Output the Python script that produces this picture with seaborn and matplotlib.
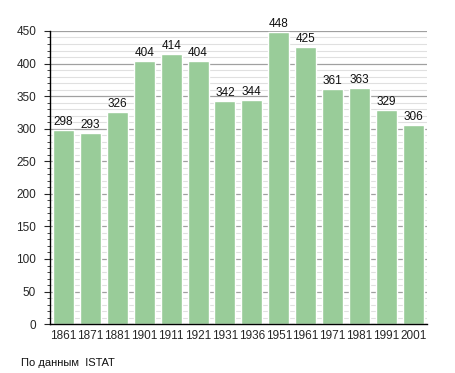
import numpy as np
import pandas as pd
import matplotlib
matplotlib.use('Agg')
import matplotlib.pyplot as plt
import seaborn as sns
from matplotlib.ticker import MultipleLocator

years = ['1861', '1871', '1881', '1901', '1911', '1921', '1931',
         '1936', '1951', '1961', '1971', '1981', '1991', '2001']
population = [298, 293, 326, 404, 414, 404, 342,
              344, 448, 425, 361, 363, 329, 306]

df = pd.DataFrame({'year': years, 'pop': population})

sns.set_style('white')
plt.rcParams['font.family'] = ['Liberation Sans', 'DejaVu Sans']

fig = plt.figure(figsize=(4.55, 3.73), dpi=100)
ax = fig.add_axes([0.110, 0.131, 0.828, 0.786])

ax.yaxis.set_major_locator(MultipleLocator(50))
ax.yaxis.set_minor_locator(MultipleLocator(10))
ax.grid(which='major', axis='y', color='#a0a0a0', linewidth=0.9, zorder=0)
ax.grid(which='minor', axis='y', color='#e0e0e0', linewidth=0.8, zorder=0)
ax.set_axisbelow(True)

sns.barplot(data=df, x='year', y='pop', color='#99cc99', saturation=1,
            width=0.78, ax=ax, zorder=2)

for i, v in enumerate(population):
    ax.text(i, v + 3, str(v), ha='center', va='bottom', fontsize=8.5,
            color='#111111')

ax.set_ylim(0, 450)
ax.set_xlim(-0.5, len(years) - 0.5)
ax.set_xlabel('')
ax.set_ylabel('')
for s in ['top', 'right']:
    ax.spines[s].set_visible(False)
for s in ['left', 'bottom']:
    ax.spines[s].set_color('black')
    ax.spines[s].set_linewidth(1.0)
ax.tick_params(axis='y', which='major', length=4, width=0.8, left=True,
               labelsize=8.5, pad=6)
ax.tick_params(axis='y', which='minor', length=2, width=0.6, left=True)
ax.tick_params(axis='x', length=0, labelsize=8.5, pad=4)

fig.text(0.046, 0.02, 'По данным  ISTAT', fontsize=8, color='#111111')

plt.savefig('out.png', dpi=100)
plt.close()
